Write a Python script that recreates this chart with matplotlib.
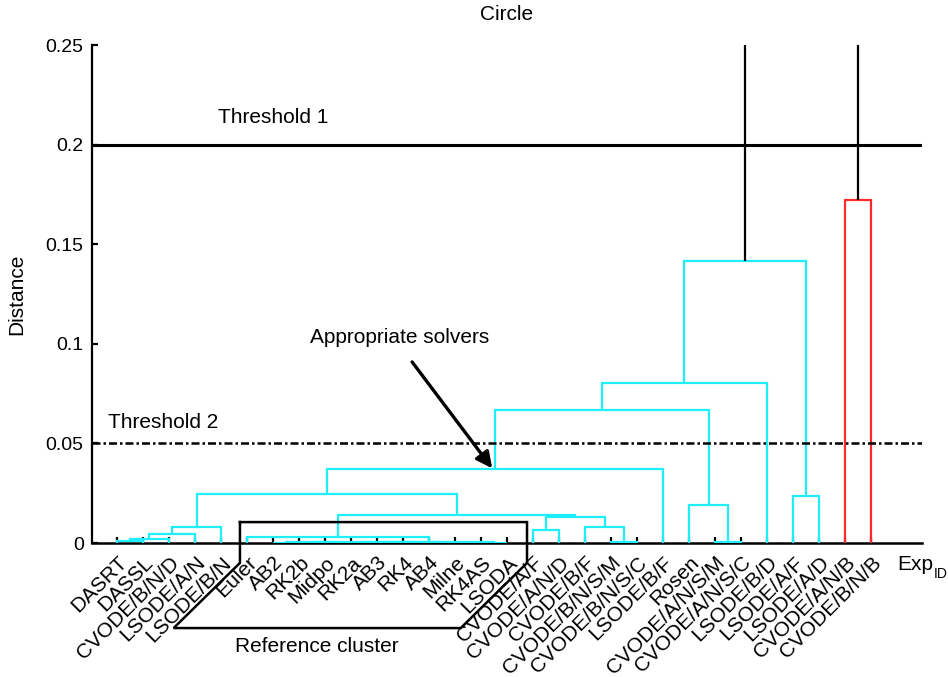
import matplotlib
matplotlib.use("Agg")
import matplotlib.pyplot as plt
from matplotlib.transforms import ScaledTranslation
import numpy as np

plt.rcParams['font.family'] = ['Liberation Sans', 'DejaVu Sans']

# ---------------- data ----------------
leaf_labels = ["DASRT", "DASSL", "CVODE/B/N/D", "LSODE/A/N", "LSODE/B/N",
               "Euler", "AB2", "RK2b", "Midpo", "RK2a", "AB3", "RK4", "AB4",
               "Milne", "RK4AS", "LSODA", "CVODE/A/F", "CVODE/A/N/D",
               "CVODE/B/F", "CVODE/B/N/S/M", "CVODE/B/N/S/C", "LSODE/B/F",
               "Rosen", "CVODE/A/N/S/M", "CVODE/A/N/S/C", "LSODE/B/D",
               "LSODE/A/F", "LSODE/A/D", "CVODE/A/N/B", "CVODE/B/N/B"]

# linkage: (left id, right id, distance); leaves are 0..29, new clusters 30..
merge_left = [0, 30, 31, 32, 6, 8, 10, 12, 34, 36, 38, 14, 40, 5,
              16, 19, 18, 44, 43, 33, 49, 23, 22, 50, 53, 26, 54, 28, 56]
merge_right = [1, 2, 3, 4, 7, 9, 11, 13, 35, 37, 39, 15, 41, 42,
               17, 20, 45, 46, 47, 48, 21, 24, 51, 52, 25, 27, 55, 29, 57]
merge_dist = [0.0008, 0.0022, 0.0045, 0.0080,
              0.0002, 0.0002, 0.0002, 0.0002, 0.0003, 0.0003, 0.0004,
              0.0002, 0.0006, 0.0030,
              0.0065, 0.0004, 0.0080, 0.0130, 0.0140, 0.0246, 0.0370,
              0.0004, 0.0190, 0.0668, 0.0802, 0.0236, 0.1416, 0.1720, 0.30]

color_threshold = 0.18
group_colors = ["#1EEFFA", "#FF2A2A"]

threshold1 = 0.2
threshold2 = 0.05
yticks = [0, 0.05, 0.1, 0.15, 0.2, 0.25]
ytick_labels = ["0", "0.05", "0.1", "0.15", "0.2", "0.25"]
ref_first, ref_last = "Euler", "LSODA"
arrow_node = 50  # cluster pointed at by "Appropriate solvers"

# ---------------- layout ----------------
fig = plt.figure(figsize=(9.48, 6.77), dpi=100)
ax = fig.add_axes([92/948, 1-543/677, (922-92)/948, (543-45)/677])

n = len(leaf_labels)
xpos = {i: i + 1.0 for i in range(n)}
hgt = {i: 0.0 for i in range(n)}
children = {}
for k, (a, b, d) in enumerate(zip(merge_left, merge_right, merge_dist)):
    cid = n + k
    xpos[cid] = (xpos[a] + xpos[b]) / 2
    hgt[cid] = d
    children[cid] = (a, b)

# colour groups: clusters directly below threshold
def assign(cid, col, out):
    out[cid] = col
    if cid in children:
        for c in children[cid]:
            assign(c, col, out)

colors = {}
gi = [0]
def find_groups(cid):
    if hgt[cid] < color_threshold:
        assign(cid, group_colors[gi[0] % len(group_colors)], colors)
        gi[0] += 1
    else:
        colors[cid] = "black"
        for c in children[cid]:
            find_groups(c)

root = n + len(merge_dist) - 1
find_groups(root)

for cid, (a, b) in children.items():
    col = colors[cid] if hgt[cid] < color_threshold else "black"
    h = hgt[cid]
    ax.plot([xpos[a], xpos[a], xpos[b], xpos[b]], [hgt[a], h, h, hgt[b]],
            color=col, lw=1.6, zorder=3, solid_capstyle='butt',
            solid_joinstyle='miter')

# thresholds
ax.axhline(threshold1, color="black", lw=2.2, zorder=4)
ax.axhline(threshold2, color="black", lw=1.8, ls=(0, (3.2, 1.2, 1.0, 1.2)),
           zorder=4)
ax.text(4.9, threshold1 + 0.0134, "Threshold 1", fontsize=15, va="center",
        ha="left")
ax.text(0.65, threshold2 + 0.0107, "Threshold 2", fontsize=15, va="center",
        ha="left")

# axes styling
ax.set_xlim(0.04, 31.96)
ax.set_ylim(0, 0.25)
for s in ["top", "right"]:
    ax.spines[s].set_visible(False)
ax.spines["left"].set_linewidth(1.6)
ax.spines["bottom"].set_linewidth(1.8)
ax.set_yticks(yticks, ytick_labels, fontsize=14)
ax.tick_params(axis="y", direction="in", length=4, width=1.6, pad=6)
ax.set_xticks([xpos[i] for i in range(n)])
ax.set_xticklabels(leaf_labels, rotation=45, ha="right", va="center",
                   rotation_mode="anchor", fontsize=15)
ax.tick_params(axis="x", direction="in", length=4, width=1.6, pad=12)
offset = ScaledTranslation(7/100, 0, fig.dpi_scale_trans)
for lab in ax.get_xticklabels():
    lab.set_transform(lab.get_transform() + offset)

ax.set_ylabel("Distance", fontsize=15, labelpad=14)
fig.text(507/948, 1-15/677, "Circle", fontsize=15, ha="center", va="center")
t_exp = ax.text(31.0, -0.0135, "Exp", fontsize=15, ha="left",
                va="baseline", clip_on=False)
ax.annotate("ID", xy=(1, 0), xycoords=t_exp, xytext=(0.5, -3),
            textcoords="offset points", fontsize=10, ha="left",
            va="baseline", annotation_clip=False)

# reference cluster box
i0 = leaf_labels.index(ref_first) + 1
i1 = leaf_labels.index(ref_last) + 1
top, knee, bot, shift = 0.0105, -0.0100, -0.0427, 2.55
bx = [i0 - 0.27, i1 + 0.77, i1 + 0.77, i1 + 0.77 - shift,
      i0 - 0.27 - shift, i0 - 0.27, i0 - 0.27]
by = [top, top, knee, bot, bot, knee, top]
ax.plot(bx, by, color="black", lw=1.8, clip_on=False, zorder=5,
        solid_joinstyle="miter")
ax.text((bx[3] + bx[4]) / 2, bot - 0.0095, "Reference cluster",
        fontsize=15, ha="center", va="center", clip_on=False)

# appropriate solvers annotation
tx, ty = xpos[arrow_node], hgt[arrow_node]
ax.text(11.88, 0.1034, "Appropriate solvers", fontsize=15, ha="center",
        va="center")
ax.annotate("", xy=(tx - 0.1, ty + 0.0005), xytext=(12.35, 0.0909),
            arrowprops=dict(arrowstyle="-|>", lw=2.4, color="black",
                            mutation_scale=24, shrinkA=0, shrinkB=0),
            zorder=6)

fig.savefig("out.png", dpi=100)
